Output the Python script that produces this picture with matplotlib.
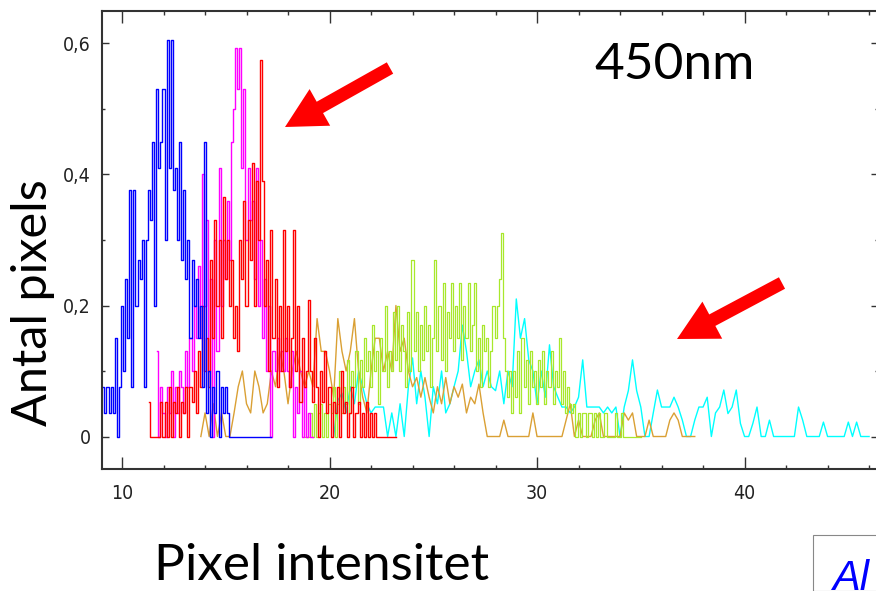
import numpy as np
import matplotlib
matplotlib.use("Agg")
import matplotlib.pyplot as plt
from matplotlib.patches import FancyArrow, Rectangle
from matplotlib.transforms import IdentityTransform
from matplotlib.ticker import MultipleLocator, FuncFormatter

# ---------------- data ----------------
blue_x0, blue_dx = 9.1, 0.1
blue_y = [0.076, 0.036, 0.076, 0.036, 0.076, 0.036, 0.15, 0.0, 0.076, 0.2,
          0.1, 0.24, 0.15, 0.376, 0.076, 0.376, 0.2, 0.27, 0.24, 0.3,
          0.076, 0.3, 0.376, 0.33, 0.45, 0.2, 0.53, 0.41, 0.45, 0.53,
          0.3, 0.605, 0.41, 0.605, 0.376, 0.41, 0.3, 0.45, 0.27, 0.376,
          0.24, 0.3, 0.15, 0.27, 0.2, 0.24, 0.15, 0.2, 0.076, 0.45,
          0.036, 0.1, 0.0, 0.076, 0.036, 0.1, 0.0, 0.076, 0.036, 0.076,
          0.036, 0.0, 0.0, 0.0, 0.0, 0.0, 0.0, 0.0, 0.0, 0.0,
          0.0, 0.0, 0.0, 0.0, 0.0, 0.0, 0.0, 0.0, 0.0, 0.0, 0.0, 0.0]

magenta_x0, magenta_dx = 11.7, 0.1
magenta_y = [0.13, 0.0, 0.076, 0.036, 0.0, 0.076, 0.036, 0.1, 0.0, 0.076,
             0.036, 0.1, 0.076, 0.036, 0.13, 0.076, 0.15, 0.1, 0.2, 0.15,
             0.26, 0.15, 0.40, 0.2, 0.33, 0.1, 0.24, 0.0, 0.3, 0.13,
             0.41, 0.2, 0.3, 0.24, 0.36, 0.27, 0.45, 0.5, 0.593, 0.53,
             0.593, 0.41, 0.53, 0.3, 0.41, 0.33, 0.36, 0.24, 0.41, 0.2,
             0.3, 0.15, 0.24, 0.1, 0.2, 0.0, 0.13, 0.1, 0.15, 0.1,
             0.13, 0.1, 0.15, 0.1, 0.076, 0.13, 0.0, 0.076, 0.036, 0.1,
             0.0, 0.076, 0.0, 0.036, 0.0, 0.0]

red_x0, red_dx = 11.3, 0.1
red_y = [0.053, 0.0, 0.0, 0.0, 0.0, 0.0, 0.053, 0.0, 0.053, 0.0,
         0.076, 0.0, 0.053, 0.036, 0.076, 0.0, 0.053, 0.036, 0.076, 0.0,
         0.076, 0.053, 0.1, 0.036, 0.13, 0.076, 0.2, 0.1, 0.15, 0.076,
         0.27, 0.15, 0.33, 0.2, 0.3, 0.15, 0.365, 0.24, 0.3, 0.2,
         0.27, 0.15, 0.2, 0.13, 0.3, 0.24, 0.36, 0.2, 0.33, 0.27,
         0.417, 0.2, 0.39, 0.3, 0.575, 0.39, 0.2, 0.27, 0.1, 0.315,
         0.15, 0.24, 0.076, 0.2, 0.1, 0.315, 0.13, 0.2, 0.076, 0.15,
         0.315, 0.1, 0.2, 0.053, 0.15, 0.076, 0.1, 0.208, 0.1, 0.053,
         0.15, 0.076, 0.0, 0.1, 0.053, 0.13, 0.036, 0.076, 0.0, 0.053,
         0.036, 0.076, 0.0, 0.1, 0.036, 0.053, 0.0, 0.036, 0.076, 0.0,
         0.036, 0.053, 0.0, 0.036, 0.0, 0.053, 0.0, 0.036, 0.0, 0.036,
         0.0, 0.0, 0.0, 0.0, 0.0, 0.0, 0.0, 0.0, 0.0, 0.0]

orange_x0, orange_dx = 13.8, 0.2
orange_y = [0.0, 0.036, 0.0, 0.05, 0.0, 0.036, 0.0, 0.0, 0.036, 0.076,
            0.1, 0.05, 0.036, 0.1, 0.076, 0.036, 0.05, 0.1, 0.076, 0.13,
            0.1, 0.05, 0.1, 0.13, 0.1, 0.076, 0.1, 0.076, 0.18, 0.13,
            0.13, 0.1, 0.06, 0.18, 0.13, 0.1, 0.13, 0.18, 0.1, 0.06,
            0.036, 0.1, 0.15, 0.15, 0.1, 0.13, 0.1, 0.2, 0.13, 0.15,
            0.1, 0.076, 0.09, 0.06, 0.09, 0.06, 0.036, 0.076, 0.05, 0.09,
            0.05, 0.076, 0.06, 0.08, 0.036, 0.06, 0.05, 0.08, 0.036, 0.0,
            0.0, 0.0, 0.0, 0.025, 0.0, 0.0, 0.0, 0.0, 0.0, 0.0,
            0.036, 0.0, 0.0, 0.0, 0.0, 0.0, 0.0, 0.0, 0.025, 0.05,
            0.0, 0.025, 0.0, 0.0, 0.0, 0.025, 0.036, 0.0, 0.0, 0.0,
            0.0, 0.0, 0.036, 0.025, 0.036, 0.0, 0.0, 0.0, 0.025, 0.0,
            0.0, 0.0, 0.0, 0.025, 0.036, 0.025, 0.0, 0.0, 0.0, 0.0]

green_x0, green_dx = 18.8, 0.1
green_y = [0.0, 0.0, 0.0, 0.036, 0.0, 0.05, 0.0, 0.036, 0.05, 0.0,
           0.036, 0.0, 0.05, 0.036, 0.076, 0.0, 0.05, 0.1, 0.036, 0.076,
           0.05, 0.117, 0.036, 0.1, 0.076, 0.13, 0.05, 0.117, 0.076, 0.15,
           0.1, 0.13, 0.076, 0.17, 0.1, 0.13, 0.05, 0.15, 0.1, 0.2,
           0.076, 0.13, 0.1, 0.19, 0.117, 0.2, 0.1, 0.17, 0.13, 0.076,
           0.19, 0.1, 0.27, 0.13, 0.19, 0.1, 0.17, 0.117, 0.2, 0.13,
           0.17, 0.076, 0.15, 0.27, 0.13, 0.2, 0.117, 0.235, 0.1, 0.19,
           0.15, 0.235, 0.13, 0.2, 0.15, 0.235, 0.117, 0.2, 0.15, 0.235,
           0.13, 0.17, 0.235, 0.1, 0.15, 0.076, 0.17, 0.13, 0.15, 0.076,
           0.13, 0.2, 0.15, 0.2, 0.24, 0.31, 0.15, 0.1, 0.06, 0.1,
           0.036, 0.1, 0.06, 0.13, 0.036, 0.15, 0.076, 0.117, 0.05, 0.13,
           0.076, 0.1, 0.05, 0.117, 0.076, 0.13, 0.05, 0.1, 0.076, 0.13,
           0.05, 0.1, 0.076, 0.15, 0.05, 0.1, 0.036, 0.076, 0.05, 0.036,
           0.05, 0.0, 0.036, 0.0, 0.036, 0.036, 0.0, 0.036, 0.036, 0.0,
           0.036, 0.0, 0.036, 0.0, 0.0, 0.036, 0.0, 0.0, 0.0, 0.0,
           0.036, 0.0, 0.0, 0.036, 0.0, 0.0, 0.0, 0.0, 0.0, 0.0,
           0.0, 0.0, 0.0]

cyan_x0, cyan_dx = 20.2, 0.2
cyan_y = [0.0, 0.055, 0.066, 0.036, 0.076, 0.05, 0.1, 0.076, 0.05, 0.036,
          0.045, 0.045, 0.045, 0.0, 0.036, 0.0, 0.05, 0.0, 0.076, 0.12,
          0.05, 0.1, 0.06, 0.0, 0.076, 0.05, 0.1, 0.036, 0.05, 0.076,
          0.1, 0.17, 0.13, 0.076, 0.1, 0.117, 0.076, 0.1, 0.076, 0.07,
          0.1, 0.05, 0.1, 0.076, 0.21, 0.15, 0.18, 0.117, 0.1, 0.05,
          0.1, 0.06, 0.14, 0.076, 0.06, 0.045, 0.045, 0.036, 0.045, 0.06,
          0.117, 0.045, 0.045, 0.045, 0.045, 0.036, 0.045, 0.036, 0.045, 0.0,
          0.045, 0.07, 0.117, 0.07, 0.045, 0.0, 0.0, 0.036, 0.071, 0.045,
          0.045, 0.045, 0.06, 0.045, 0.025, 0.0, 0.0, 0.025, 0.045, 0.045,
          0.06, 0.0, 0.036, 0.045, 0.071, 0.035, 0.045, 0.071, 0.02, 0.0,
          0.0, 0.02, 0.045, 0.0, 0.0, 0.025, 0.0, 0.0, 0.0, 0.0,
          0.0, 0.0, 0.045, 0.025, 0.0, 0.0, 0.0, 0.0, 0.022, 0.0,
          0.0, 0.0, 0.0, 0.0, 0.022, 0.0, 0.022, 0.0, 0.0, 0.0]

x_ticks = [10, 20, 30, 40]
y_ticks = [0, 0.2, 0.4, 0.6]
title_text = "450nm"
ylabel_text = "Antal pixels"
xlabel_text = "Pixel intensitet"

# ---------------- figure ----------------
W, H = 876, 591
fig = plt.figure(figsize=(W / 100, H / 100), dpi=100)
fig.patch.set_facecolor("white")

ax = fig.add_axes([102 / W, (H - 469) / H, (878 - 102) / W, (469 - 11) / H])
ax.set_xlim(9.036, 46.43)
ax.set_ylim(-0.0496, 0.6496)


def xs(x0, dx, ys):
    return x0 + dx * np.arange(len(ys))


lw = 1.0
ax.plot(xs(cyan_x0, cyan_dx, cyan_y), cyan_y, color="#00FFFF", lw=lw)
ax.plot(xs(orange_x0, orange_dx, orange_y), orange_y, color="#DAA034", lw=lw)
ax.plot(xs(green_x0, green_dx, green_y), green_y, color="#A8E82C", lw=0.9,
        drawstyle="steps-mid")
ax.plot(xs(magenta_x0, magenta_dx, magenta_y), magenta_y, color="#FF00FF",
        lw=lw, drawstyle="steps-mid")
ax.plot(xs(red_x0, red_dx, red_y), red_y, color="#FF0000", lw=lw,
        drawstyle="steps-mid")
ax.plot(xs(blue_x0, blue_dx, blue_y), blue_y, color="#0000FF", lw=lw,
        drawstyle="steps-mid")

for s in ax.spines.values():
    s.set_linewidth(1.5)
    s.set_color("#333333")

ax.set_xticks(x_ticks)
ax.set_yticks(y_ticks)
ax.xaxis.set_minor_locator(MultipleLocator(2))
ax.yaxis.set_minor_locator(MultipleLocator(0.1))
ax.yaxis.set_major_formatter(FuncFormatter(lambda v, p: ("%g" % v).replace(".", ",")))

ax.tick_params(axis="x", which="major", direction="in", length=8.5, width=1.0,
               top=True, bottom=True, pad=11, labelsize=14, labelcolor="#222222",
               color="#333333")
ax.tick_params(axis="x", which="minor", direction="in", length=3, width=1.0,
               top=True, bottom=True, color="#333333")
ax.tick_params(axis="y", which="major", direction="in", length=5, width=1.0,
               left=True, right=True, pad=8, labelsize=14, labelcolor="#222222",
               color="#333333")
ax.tick_params(axis="y", which="minor", direction="in", length=2, width=1.0,
               left=True, right=True, color="#333333")
for lab in ax.get_xticklabels() + ax.get_yticklabels():
    lab.set_family(["DejaVu Sans"])
    lab.set_fontstretch("condensed")

big_font = ["Lato", "DejaVu Sans"]
fig.text(675 / W, (H - 65) / H, title_text, ha="center", va="center",
         fontsize=37, family=big_font, color="black")
fig.text(33 / W, (H - 303) / H, ylabel_text, ha="center", va="center",
         rotation=90, fontsize=35, family=big_font, color="black")
fig.text(322 / W, (H - 566) / H, xlabel_text, ha="center", va="center",
         fontsize=37, family=big_font, color="black")

# red arrows (pixel coordinates)
ident = IdentityTransform()
for (x1, y1, x2, y2) in [(390, 68, 285, 127), (782, 283, 677, 339)]:
    arr = FancyArrow(x1, H - y1, x2 - x1, -(y2 - y1), width=13, head_width=42,
                     head_length=40, length_includes_head=True, color="#FF0000",
                     transform=ident, linewidth=0)
    fig.add_artist(arr)

# partial box at bottom right
fig.add_artist(Rectangle((813 / W, 0), 80 / W, (H - 535) / H, transform=fig.transFigure,
                         facecolor="white", edgecolor="#888888", lw=0.8))
fig.text(832 / W, -8 / H, "Al", ha="left", va="bottom", fontsize=30,
         style="italic", color="#0000FF", family=["Liberation Sans", "DejaVu Sans"])

fig.savefig("out.png", dpi=100)
